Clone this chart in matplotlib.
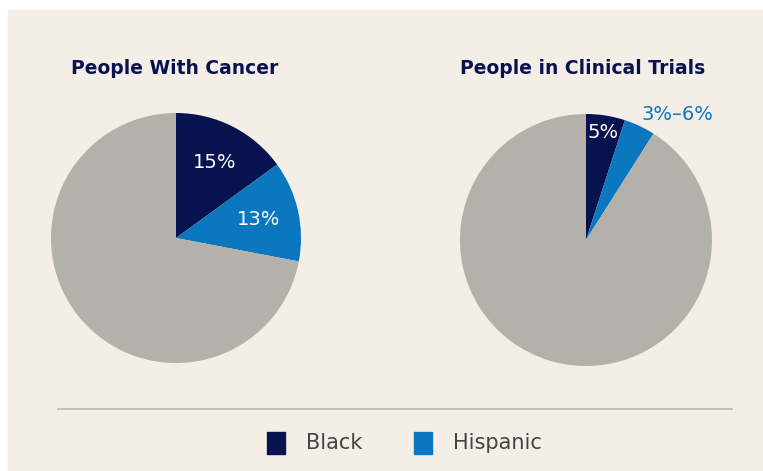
import matplotlib.pyplot as plt
from matplotlib.patches import Rectangle
import numpy as np

# data
titles = ["People With Cancer", "People in Clinical Trials"]
groups = ["Black", "Hispanic"]
cancer_pct = [15, 13]
trials_pct = [5, 4]
cancer_labels = ["15%", "13%"]
trials_labels = ["5%", "3%\u20136%"]

navy = "#07124f"
blue = "#0b77bf"
grey = "#b3b1a9"
bg = "#f4eee7"

plt.rcParams['font.family'] = ['DejaVu Sans']

W, H = 763, 471
fig = plt.figure(figsize=(W / 100, H / 100), dpi=100, facecolor="white")
fig.patches.append(Rectangle((8 / W, 0), 1 - 8 / W, (H - 10) / H,
                             transform=fig.transFigure, color=bg, zorder=-10))


def pie_axes(cx, cy, r):
    a = fig.add_axes([(cx - r) / W, (H - cy - r) / H, 2 * r / W, 2 * r / H])
    a.patch.set_alpha(0)
    return a


def draw(ax, vals, labels, title, tx, outside_last=False):
    rest = 100 - sum(vals)
    wedges, _ = ax.pie(vals + [rest], colors=[navy, blue, grey], startangle=90,
                       counterclock=False, radius=1,
                       wedgeprops=dict(linewidth=0))
    ax.set_xlim(-1, 1)
    ax.set_ylim(-1, 1)
    ax.set_aspect("auto")
    ax.axis("off")
    for i, lab in enumerate(labels):
        w = wedges[i]
        mid = np.deg2rad((w.theta1 + w.theta2) / 2)
        if outside_last and i == len(labels) - 1:
            d = 1.23
            mid = np.deg2rad(54)
            col = blue
        else:
            d = 0.86 if vals[i] < 8 else 0.68
            col = "white"
        ax.text(d * np.cos(mid), d * np.sin(mid), lab, color=col,
                fontsize=14, ha="center", va="center", clip_on=False)
    fig.text(tx / W, 1 - 68 / H, title, color=navy, fontsize=13.5,
             fontweight="bold", ha="center", va="center")


ax1 = pie_axes(176, 238, 125)
draw(ax1, cancer_pct, cancer_labels, titles[0], 175)
ax2 = pie_axes(586, 240, 126)
draw(ax2, trials_pct, trials_labels, titles[1], 583, outside_last=True)

# separator line
fig.add_artist(plt.Line2D([58 / W, 732 / W], [1 - 409 / H, 1 - 409 / H],
                          transform=fig.transFigure, color="#bcb7af", lw=1.2))

# legend
sq_x = [267, 414]
txt_x = [306, 453]
for c, g, sx, tx in zip([navy, blue], groups, sq_x, txt_x):
    fig.patches.append(Rectangle((sx / W, 1 - 454 / H), 18 / W, 22 / H,
                                 transform=fig.transFigure, color=c))
    fig.text(tx / W, 1 - 443 / H, g, color="#444444", fontsize=15,
             ha="left", va="center")

fig.savefig("out.png", dpi=100, facecolor="white")
